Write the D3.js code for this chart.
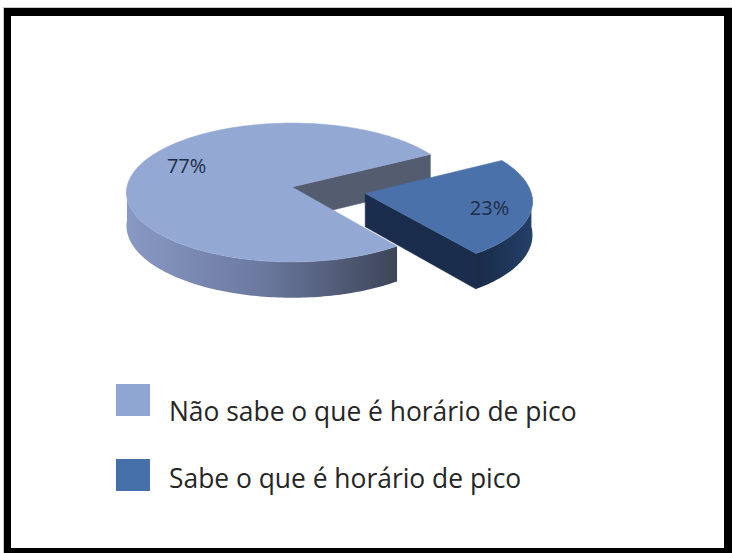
<!DOCTYPE html>
<html>
<head>
<meta charset="utf-8">
<script src="https://cdn.jsdelivr.net/npm/d3@7"></script>
<style>
  html, body { margin: 0; padding: 0; background: #fff; }
  svg { display: block; }
</style>
</head>
<body>
<svg id="chart" width="732" height="553"></svg>
<script>
// ---- data ----
const categories = ["Não sabe o que é horário de pico", "Sabe o que é horário de pico"];
const values = [77, 23];
const valueLabels = ["77%", "23%"];

// ---- styling / layout ----
const explodeBy = [0, 0.45];                 // radial pull-out, in radii
const topColors = ["#93A9D4", "#4A71AA"];
const sideStops = [["#8899C4", "#6B799F", "#3D4558"], ["#1A2A47", "#1F3558", "#25406A"]];
const cutColors = ["#545C70", "#1B2D4C"];
const legendColors = ["#8FA6D2", "#4670A9"];
const labelShift = [[0, -12], [0, 3]];
const labelRadius = [0.66, 0.75];
const firstSliceAngle = 143.4;                // degrees, clockwise from 12 o'clock
const fontFamily = "'Open Sans', Lato, sans-serif";

const view = { cx: 292, cy: 187, rx: 165, ry: 69, thick: 33, persp: 0.079 };

const svg = d3.select("#chart");

// ---- frame ----
svg.append("rect").attr("x", 3.5).attr("y", 7.5).attr("width", 730).attr("height", 547)
  .attr("fill", "none").attr("stroke", "#c8c8c8");
svg.append("rect").attr("x", 4).attr("y", 8).attr("width", 728).attr("height", 545).attr("fill", "#000");
svg.append("rect").attr("x", 11).attr("y", 16).attr("width", 713).attr("height", 532).attr("fill", "#fff");

// ---- 3D projection of the pie disc ----
// u: right, v: toward the viewer, level: 0 = top face, 1 = bottom face
function project(u, v, level) {
  const w = 1 - view.persp * v;
  return [view.cx + view.rx * u / w, view.cy + (view.ry * v + view.thick * level) / w];
}

const a0 = firstSliceAngle * Math.PI / 180;
const pie = d3.pie().sort(null).value(d => d).startAngle(a0).endAngle(a0 + 2 * Math.PI);
const arcs = pie(values);

const line = d3.line();
const defs = svg.append("defs");

sideStops.forEach((stops, i) => {
  const g = defs.append("linearGradient").attr("id", "side" + i)
    .attr("x1", 0).attr("y1", 0).attr("x2", 1).attr("y2", 0);
  stops.forEach((c, k) => g.append("stop").attr("offset", k / (stops.length - 1)).attr("stop-color", c));
});

const pieG = svg.append("g");

function sliceGeometry(d, i) {
  const mid = (d.startAngle + d.endAngle) / 2;
  const ou = explodeBy[i] * Math.sin(mid);
  const ov = -explodeBy[i] * Math.cos(mid);
  const pt = (a, r, level) => project(ou + r * Math.sin(a), ov - r * Math.cos(a), level);
  const samples = (s, e) => {
    const n = Math.max(2, Math.ceil((e - s) / 0.02));
    return d3.range(n + 1).map(k => s + (e - s) * k / n);
  };
  return { mid, pt, samples };
}

arcs.forEach((d, i) => {
  const { pt, samples } = sliceGeometry(d, i);
  const g = pieG.append("g");

  // radial cut faces that turn toward the viewer
  const cutFace = a => [pt(a, 0, 0), pt(a, 1, 0), pt(a, 1, 1), pt(a, 0, 1)];
  if (Math.sin(d.startAngle) < 0) {
    g.append("path").attr("d", line(cutFace(d.startAngle)) + "Z")
      .attr("fill", cutColors[i]).attr("stroke", cutColors[i]).attr("stroke-width", 0.5);
  }
  if (Math.sin(d.endAngle) > 0) {
    g.append("path").attr("d", line(cutFace(d.endAngle)) + "Z")
      .attr("fill", cutColors[i]).attr("stroke", cutColors[i]).attr("stroke-width", 0.5);
  }

  // outer wall: only the front half of the rim (angles 90°..270° mod 360)
  const twoPi = 2 * Math.PI;
  for (let base = Math.floor(d.startAngle / twoPi) * twoPi - twoPi; base < d.endAngle; base += twoPi) {
    const s = Math.max(d.startAngle, base + Math.PI / 2);
    const e = Math.min(d.endAngle, base + 3 * Math.PI / 2);
    if (e > s) {
      const as = samples(s, e);
      const pts = as.map(a => pt(a, 1, 0)).concat(as.slice().reverse().map(a => pt(a, 1, 1)));
      g.append("path").attr("d", line(pts) + "Z")
        .attr("fill", `url(#side${i})`).attr("stroke", "none");
    }
  }

  // top face
  const topPts = [pt(0, 0, 0)].concat(samples(d.startAngle, d.endAngle).map(a => pt(a, 1, 0)));
  g.append("path").attr("d", line(topPts) + "Z")
    .attr("fill", topColors[i]).attr("stroke", topColors[i]).attr("stroke-width", 0.5);
});

// ---- value labels ----
arcs.forEach((d, i) => {
  const { mid, pt } = sliceGeometry(d, i);
  const p = pt(mid, labelRadius[i], 0);
  svg.append("text")
    .attr("x", p[0] + labelShift[i][0])
    .attr("y", p[1] + labelShift[i][1] + 7)
    .attr("text-anchor", "middle")
    .attr("font-family", fontFamily)
    .attr("font-size", 20)
    .attr("fill", "#1F2C47")
    .text(valueLabels[i]);
});

// ---- legend ----
const legendSquareY = [384, 459];
const legendTextY = [421, 488];
const legend = svg.append("g");
categories.forEach((c, i) => {
  legend.append("rect").attr("x", 116).attr("y", legendSquareY[i])
    .attr("width", 34).attr("height", 32).attr("fill", legendColors[i]);
  legend.append("text").attr("x", 169).attr("y", legendTextY[i])
    .attr("font-family", fontFamily)
    .attr("font-size", 26.4)
    .attr("fill", "#262626")
    .text(c);
});
</script>
</body>
</html>
